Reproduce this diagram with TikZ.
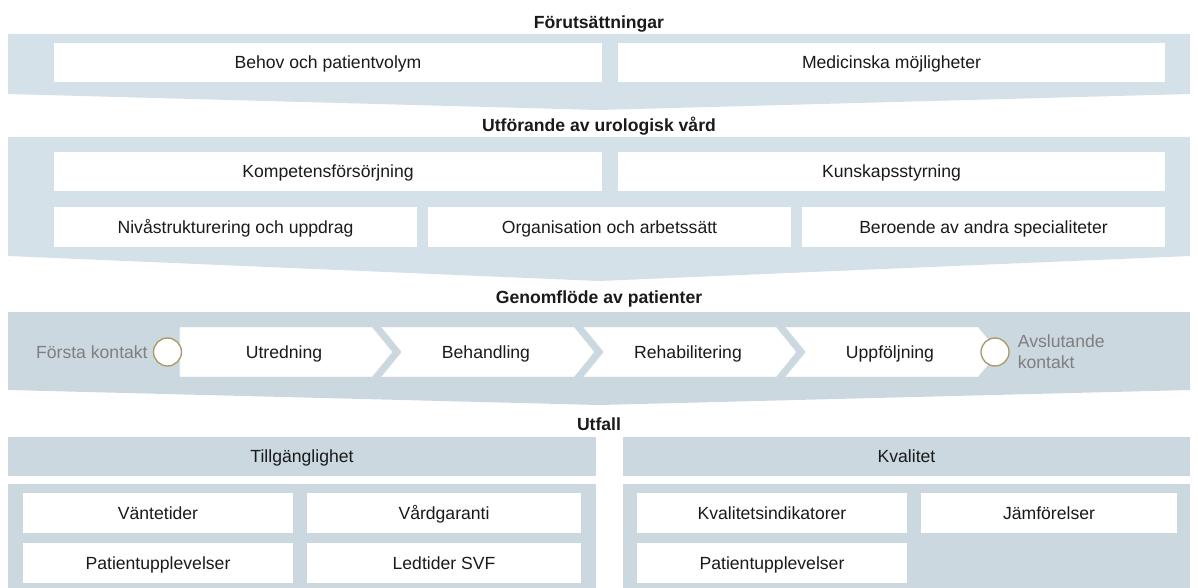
\documentclass[tikz,border=0pt]{standalone}
\usepackage{fontspec}
\setmainfont{Liberation Sans}
\usetikzlibrary{positioning}
\definecolor{bandblue}{HTML}{D5E1E8}
\definecolor{flowblue}{HTML}{CBD8E0}
\definecolor{softgrey}{HTML}{7F7F7F}
\definecolor{ringgold}{HTML}{A59966}
\definecolor{inkblack}{HTML}{1A1A1A}

\begin{document}
\begin{tikzpicture}[x=1pt,y=-1pt,font=\fontsize{17.6}{21}\selectfont,text=inkblack]
  \tikzstyle{line}=[text height=12.7pt,text depth=0pt]
  \tikzstyle{heading}=[line,font=\fontsize{17.6}{21}\selectfont\bfseries]
  \tikzstyle{box}=[line,fill=white,inner sep=0pt,minimum height=39pt]
  \tikzstyle{header}=[line,fill=flowblue,inner sep=0pt,minimum height=39pt]
  \tikzstyle{ring}=[circle,draw=ringgold,line width=1.3pt,fill=white,minimum size=28pt,inner sep=0pt]
  \tikzstyle{contact}=[text=softgrey,inner sep=0pt]
  \tikzstyle{chevron}=[fill=white,draw=white!80!flowblue,line width=0.6pt]
  \tikzstyle{stagetext}=[line,inner sep=0pt]

  \useasboundingbox (0,0) rectangle (1198,588);

  % Förutsättningar
  \node[heading] (pre) at (599,22) {Förutsättningar};
  \fill[bandblue] (8,34) -- (1190,34) -- (1190,94) -- (599,110) -- (8,94) -- cycle;
  \node[box,minimum width=548pt] (need) at (328,62.5) {Behov och patientvolym};
  \node[box,minimum width=547pt] (med)  at (891.5,62.5) {Medicinska möjligheter};

  % Utförande
  \node[heading] (care) at (599,125) {Utförande av urologisk vård};
  \fill[bandblue] (8,137) -- (1190,137) -- (1190,256) -- (599,281) -- (8,256) -- cycle;
  \node[box,minimum width=548pt] (comp)  at (328,171.5)   {Kompetensförsörjning};
  \node[box,minimum width=547pt] (know)  at (891.5,171.5) {Kunskapsstyrning};
  \node[box,minimum width=363pt,minimum height=40pt] (level) at (235.5,227) {Nivåstrukturering och uppdrag};
  \node[box,minimum width=363pt,minimum height=40pt] (org)   at (609.5,227) {Organisation och arbetssätt};
  \node[box,minimum width=363pt,minimum height=40pt] (dep)   at (983.5,227) {Beroende av andra specialiteter};

  % Genomflöde
  \node[heading] (flow) at (599,297) {Genomflöde av patienter};
  \fill[flowblue] (8,312) -- (1190,312) -- (1190,390) -- (599,405) -- (8,390) -- cycle;
  \draw[chevron] (180,327.5) -- (372,327.5) -- (392,352) -- (372,376.5) -- (180,376.5) -- cycle;
  \draw[chevron] (382,327.5) -- (574,327.5) -- (594,352) -- (574,376.5) -- (382,376.5) -- (402,352) -- cycle;
  \draw[chevron] (584,327.5) -- (776,327.5) -- (796,352) -- (776,376.5) -- (584,376.5) -- (604,352) -- cycle;
  \draw[chevron] (786,327.5) -- (978,327.5) -- (998,352) -- (978,376.5) -- (786,376.5) -- (806,352) -- cycle;
  \node[stagetext] (inv)   at (284,352) {Utredning};
  \node[stagetext] (treat) at (486,352) {Behandling};
  \node[stagetext] (rehab) at (688,352) {Rehabilitering};
  \node[stagetext] (fol)   at (890,352) {Uppföljning};
  \node[ring] (first) at (167.5,352) {};
  \node[contact,line,left=5pt of first] (firsttext) {Första kontakt};
  \node[ring] (last) at (995,352) {};
  \node[contact,align=left,right=8pt of last] (lasttext) {Avslutande\\kontakt};

  % Utfall
  \node[heading] (out) at (599,424) {Utfall};
  \node[header,minimum width=588pt] (access)  at (302,456.5) {Tillgänglighet};
  \node[header,minimum width=567pt] (quality) at (906.5,456.5) {Kvalitet};
  \fill[flowblue] (8,484) rectangle (596,588);
  \fill[flowblue] (623,484) rectangle (1190,588);
  \node[box,minimum width=270pt,minimum height=40pt] (wait)   at (158,513)    {Väntetider};
  \node[box,minimum width=274pt,minimum height=40pt] (guar)   at (444,513)    {Vårdgaranti};
  \node[box,minimum width=270pt,minimum height=40pt] (expa)   at (158,563)    {Patientupplevelser};
  \node[box,minimum width=274pt,minimum height=40pt] (lead)   at (444,563)    {Ledtider SVF};
  \node[box,minimum width=270pt,minimum height=40pt] (ind)    at (772,513)    {Kvalitetsindikatorer};
  \node[box,minimum width=256pt,minimum height=40pt] (comp2)  at (1049,513)   {Jämförelser};
  \node[box,minimum width=270pt,minimum height=40pt] (expq)   at (772,563)    {Patientupplevelser};
\end{tikzpicture}
\end{document}
